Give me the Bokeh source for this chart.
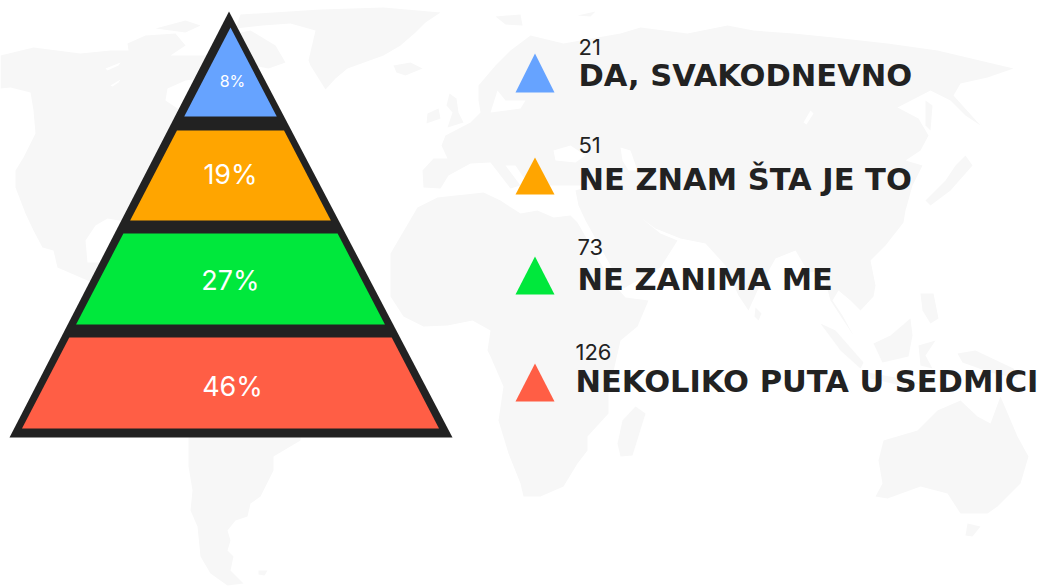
from bokeh.plotting import figure
from bokeh.models import Range1d
from bokeh.core.properties import value
from bokeh.embed import file_html
from bokeh.resources import INLINE

# ---- data ----
categories = ["DA, SVAKODNEVNO", "NE ZNAM ŠTA JE TO", "NE ZANIMA ME", "NEKOLIKO PUTA U SEDMICI"]
counts = [21, 51, 73, 126]
percents = ["8%", "19%", "27%", "46%"]

# ---- styles ----
colors = ["#66a3ff", "#ffa500", "#00e83c", "#ff5e45"]
DARK = "#222222"
LAND = "#f7f7f7"
FONT = "Inter"

# ---- layout (page pixels) ----
band_top = [27, 130, 233, 337]
band_bot = [116, 220, 324, 428]
CX, SLOPE, APEX = 230, 0.52, 27
pct_y = [80, 174, 280, 386]
pct_x = [232, 230, 230, 232]
pct_size = ["16px", "27px", "27px", "27px"]
tri_apex = [53, 157, 256, 363]
tri_base = [92, 194, 294, 401]
TRI_L, TRI_C, TRI_R = 515, 534.5, 554
label_x = [578, 578, 577, 575]
label_mid = [74.5, 178.5, 278.5, 381]
count_mid = [46, 144, 246.5, 351.5]

# ---- background map outline ----
north_america = [(0,55),(33,47),(80,53),(110,50),(128,50),(127,43),(145,35),(175,33),(185,45),(170,55),(205,55),(235,50),(240,70),(200,78),(185,80),(167,88),(165,100),(180,110),(170,150),(130,222),(107,218),(95,225),(85,240),(87,262),(105,262),(100,285),(87,280),(57,267),(53,250),(42,247),(33,230),(25,213),(15,187),(15,170),(23,157),(35,133),(33,110),(30,92),(10,87),(0,88)]
arctic_isl = [(155,28),(185,20),(200,25),(185,32)]
greenland = [(240,14),(320,9),(383,7),(440,12),(425,22),(415,32),(400,45),(383,55),(347,68),(335,78),(325,89),(310,65),(308,60),(315,30),(290,23),(262,25),(235,28)]
baffin = [(225,35),(250,30),(275,45),(285,62),(268,68),(225,60)]
iceland = [(393,65),(410,62),(422,68),(405,75),(396,72)]
britain = [(449,93),(456,98),(458,112),(463,122),(447,127),(452,112),(446,105)]
ireland = [(427,113),(438,108),(440,118),(426,123)]
svalbard = [(495,16),(520,14),(522,25),(505,24)]
novaya = [(577,15),(595,11),(590,16)]
south_america = [(190,330),(300,330),(300,440),(273,456),(273,470),(260,496),(250,503),(247,516),(235,520),(227,530),(230,540),(227,550),(233,556),(230,570),(243,583),(227,585),(210,573),(200,556),(197,526),(190,510),(192,490),(188,466),(188,440)]
falkland = [(258,570),(267,570),(264,575),(258,574)]
africa = [(417,207),(437,197),(483,192),(500,200),(520,213),(537,210),(553,217),(570,215),(577,222),(610,280),(625,297),(648,300),(637,326),(620,340),(608,393),(608,413),(587,436),(587,450),(577,463),(563,486),(540,496),(523,496),(520,483),(508,453),(498,420),(503,386),(490,356),(487,350),(490,330),(472,320),(447,325),(423,326),(403,316),(390,296),(390,253)]
madagascar = [(635,406),(645,413),(632,455),(620,456),(617,443),(622,420)]
eurasia = [(423,187),(422,170),(433,158),(447,158),(441,145),(445,135),(470,122),(480,112),(478,100),(478,85),(495,65),(510,50),(530,35),(563,43),(620,33),(640,27),(687,33),(727,25),(753,30),(793,33),(833,37),(887,43),(937,50),(1013,68),(987,77),(960,83),(953,95),(980,125),(965,115),(950,100),(930,90),(897,107),(918,118),(928,135),(920,150),(905,160),(922,165),(912,185),(905,210),(903,222),(885,245),(870,260),(875,285),(873,296),(860,310),(850,300),(838,290),(832,300),(842,315),(853,335),(843,320),(830,300),(822,270),(808,272),(795,250),(775,258),(757,290),(748,310),(738,295),(725,265),(705,243),(680,238),(655,228),(640,217),(660,233),(677,240),(660,267),(623,288),(610,265),(585,220),(578,205),(575,190),(590,185),(545,185),(540,172),(535,190),(525,180),(515,165),(505,165),(520,185),(510,188),(490,162),(470,163),(448,175),(440,188)]
japan = [(965,155),(972,165),(950,190),(930,205),(925,200),(945,180),(955,165)]
sakhalin = [(925,100),(932,105),(930,130),(925,125)]
srilanka = [(755,307),(761,313),(758,320),(754,316)]
sumatra = [(820,323),(835,330),(863,362),(860,368),(840,350)]
java = [(868,372),(900,378),(922,383),(900,385),(870,378)]
borneo = [(873,343),(890,335),(910,318),(912,335),(908,356),(882,362)]
sulawesi = [(918,345),(935,340),(925,355),(932,368),(920,365)]
philippines = [(920,293),(933,293),(938,318),(930,323),(922,310)]
new_guinea = [(957,353),(975,350),(1013,368),(1018,378),(990,372),(962,362)]
australia = [(878,460),(883,440),(917,430),(937,410),(960,400),(977,416),(990,423),(1000,396),(1017,436),(1028,456),(1020,483),(997,506),(987,513),(960,513),(947,493),(920,486),(887,498),(875,496),(882,483)]
tasmania = [(967,523),(980,526),(972,536),(965,535)]
land_shapes = [north_america, arctic_isl, greenland, baffin, iceland, britain, ireland, svalbard, novaya,
               south_america, falkland, africa, madagascar, eurasia, japan, sakhalin, srilanka,
               sumatra, java, borneo, sulawesi, philippines, new_guinea, australia, tasmania]
black_sea = [(553,150),(570,145),(585,155),(575,162),(555,160)]
caspian = [(620,147),(630,150),(637,170),(628,170),(622,160)]
baltic = [(490,112),(520,108),(525,100),(505,100),(497,90)]
baikal = [(810,110),(813,113),(806,124),(803,122)]
bear_lake = [(105,68),(120,62),(118,65),(107,70)]
slave_lake = [(110,85),(120,79),(118,82),(112,86)]
water_shapes = [black_sea, caspian, baltic, baikal, bear_lake, slave_lake]

p = figure(width=1042, height=586, x_range=Range1d(0, 1042), y_range=Range1d(586, 0),
           output_backend="svg", toolbar_location=None, min_border=0,
           x_axis_type=None, y_axis_type=None, outline_line_color=None)
p.grid.visible = False
p.background_fill_color = "#ffffff"
p.border_fill_color = "#ffffff"

p.patches([[q[0] for q in s] for s in land_shapes], [[q[1] for q in s] for s in land_shapes],
          fill_color=LAND, line_color=None)
p.patches([[q[0] for q in s] for s in water_shapes], [[q[1] for q in s] for s in water_shapes],
          fill_color="#ffffff", line_color=None)

# pyramid frame
p.patch([228.5, 452, 9], [11, 437, 437], fill_color=DARK, line_color=None)

# pyramid bands: equal height, one per category
hw = lambda y: SLOPE * (y - APEX)
xs, ys = [], []
for t, b in zip(band_top, band_bot):
    xs.append([CX - hw(t), CX + hw(t), CX + hw(b), CX - hw(b)])
    ys.append([t, t, b, b])
p.patches(xs, ys, fill_color=colors, line_color=None)

for i, txt in enumerate(percents):
    p.text([pct_x[i]], [pct_y[i]], text=[txt], text_color="#ffffff", text_align="center",
           text_baseline="middle", text_font=value(FONT), text_font_size=pct_size[i])

# legend
p.patches([[TRI_L, TRI_C, TRI_R]] * 4, [[b, a, b] for a, b in zip(tri_apex, tri_base)],
          fill_color=colors, line_color=None)
p.text(label_x, label_mid, text=categories, text_color=DARK, text_align="left",
       text_baseline="middle", text_font=value("DejaVu Sans"), text_font_size="30.5px",
       text_font_style="bold")
p.text(label_x, count_mid, text=[str(c) for c in counts], text_color=DARK, text_align="left",
       text_baseline="middle", text_font=value(FONT), text_font_size="22px")

open("out.html", "w").write(file_html(p, INLINE))
